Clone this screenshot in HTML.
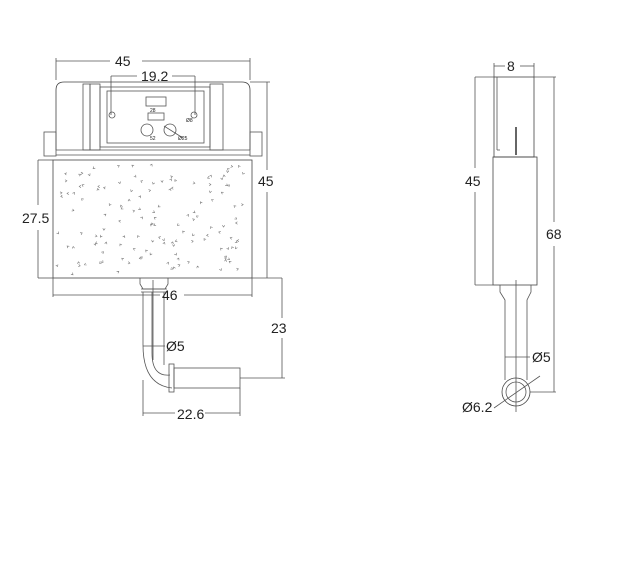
<!DOCTYPE html>
<html><head><meta charset="utf-8"><style>
html,body{margin:0;padding:0;background:#fff;}
svg{display:block;font-family:"Liberation Sans",sans-serif;}
text{fill:#222;font-size:14px;}
text.sm{font-size:5px;}
</style></head><body>
<svg id="s" width="631" height="574" viewBox="0 0 631 574" xmlns="http://www.w3.org/2000/svg">
<g fill="none" stroke="#555" stroke-width="0.8">
<line x1="56" y1="61" x2="110" y2="61"/><line x1="142" y1="61" x2="250" y2="61"/>
<line x1="56" y1="58" x2="56" y2="80"/><line x1="250" y1="58" x2="250" y2="80"/>
<line x1="111" y1="76" x2="137" y2="76"/><line x1="172" y1="76" x2="195" y2="76"/>
<line x1="111" y1="76" x2="111" y2="115"/><line x1="195" y1="76" x2="195" y2="115"/>
<path d="M56 150 V90 Q56 82 64 82 H242 Q250 82 250 90 V150" stroke="#444"/>
<line x1="56" y1="150" x2="250" y2="150"/>
<line x1="56" y1="155" x2="250" y2="155"/>
<rect x="83" y="84" width="7" height="66"/>
<rect x="90" y="84" width="10" height="66"/>
<rect x="100" y="87" width="110" height="60"/>
<rect x="107" y="91" width="97" height="52"/>
<rect x="210" y="84" width="13" height="66"/>
<rect x="44" y="132" width="12" height="24"/>
<rect x="250" y="132" width="12" height="24"/>
<rect x="146" y="97" width="20" height="9"/>
<rect x="148" y="113" width="16" height="7"/>
<circle cx="112" cy="115" r="3"/><circle cx="194" cy="115" r="3"/>
<circle cx="147" cy="130" r="6"/><circle cx="170" cy="130" r="6"/>
<line x1="164" y1="126" x2="183" y2="138"/>
<rect x="53" y="160" width="199" height="118" stroke="#444"/>
<line x1="38" y1="160" x2="53" y2="160"/><line x1="38" y1="278" x2="53" y2="278"/>
<line x1="38" y1="160" x2="38" y2="205"/><line x1="38" y1="230" x2="38" y2="278"/>
<line x1="250" y1="82" x2="270" y2="82"/><line x1="252" y1="278" x2="282" y2="278"/>
<line x1="267" y1="82" x2="267" y2="170"/><line x1="267" y1="192" x2="267" y2="278"/>
<line x1="53" y1="278" x2="53" y2="297"/><line x1="252" y1="278" x2="252" y2="297"/>
<line x1="53" y1="295" x2="160" y2="295"/><line x1="184" y1="295" x2="252" y2="295"/>
<path d="M140 278 V284 L143 289 H165 L168 284 V278"/>
<line x1="141" y1="289" x2="167" y2="289"/><line x1="141" y1="292" x2="167" y2="292"/>
<path d="M143 292 V345 Q143 385 172 388"/>
<path d="M152 292 V353 Q152 377 170 375"/>
<line x1="164" y1="292" x2="164" y2="365"/>
<line x1="153" y1="280" x2="153" y2="360"/>
<rect x="169" y="364" width="5" height="28"/>
<rect x="174" y="368" width="66" height="20"/>
<line x1="143" y1="346" x2="165" y2="346"/>
<line x1="143" y1="380" x2="143" y2="416"/><line x1="240" y1="388" x2="240" y2="416"/>
<line x1="143" y1="413" x2="175" y2="413"/><line x1="205" y1="413" x2="240" y2="413"/>
<line x1="240" y1="378" x2="285" y2="378"/>
<line x1="282" y1="278" x2="282" y2="318"/><line x1="282" y1="338" x2="282" y2="378"/>
<line x1="494" y1="66" x2="505" y2="66"/><line x1="520" y1="66" x2="534" y2="66"/>
<line x1="494" y1="63" x2="494" y2="77"/><line x1="534" y1="63" x2="534" y2="77"/>
<rect x="494" y="77" width="40" height="80" stroke="#444"/>
<line x1="497" y1="77" x2="497" y2="150"/><line x1="497" y1="150" x2="500" y2="150"/>
<line x1="516" y1="127" x2="516" y2="155" stroke="#333" stroke-width="1.5"/>
<rect x="493" y="157" width="44" height="128" stroke="#444"/>
<line x1="475" y1="77" x2="494" y2="77"/><line x1="475" y1="285" x2="493" y2="285"/>
<line x1="475" y1="77" x2="475" y2="168"/><line x1="475" y1="192" x2="475" y2="285"/>
<line x1="534" y1="77" x2="556" y2="77"/><line x1="530" y1="392" x2="556" y2="392"/>
<line x1="554" y1="77" x2="554" y2="222"/><line x1="554" y1="246" x2="554" y2="392"/>
<path d="M500 285 V292 L505 300 V380"/><path d="M531 285 V292 L527 300 V380"/>
<line x1="516" y1="280" x2="516" y2="412"/>
<circle cx="516" cy="392" r="14" stroke="#444"/><circle cx="516" cy="392" r="10"/>
<line x1="505" y1="357" x2="530" y2="357"/>
<line x1="494" y1="408" x2="540" y2="376"/>
</g>
<g id="sp" fill="none" stroke="#777" stroke-width="0.6"></g>
<text class="sm" x="150" y="140">52</text><text class="sm" x="178" y="140">Ø25</text>
<text class="sm" x="186" y="122">Ø8</text><text class="sm" x="150" y="112">28</text>
<text x="115" y="66">45</text>
<text x="141" y="81">19.2</text>
<text x="258" y="186">45</text>
<text x="22" y="223">27.5</text>
<text x="162" y="300">46</text>
<text x="271" y="333">23</text>
<text x="166" y="351">Ø5</text>
<text x="177" y="419">22.6</text>
<text x="507" y="71">8</text>
<text x="465" y="186">45</text>
<text x="546" y="239">68</text>
<text x="532" y="362">Ø5</text>
<text x="462" y="412">Ø6.2</text>
</svg>
<script>
var g=document.getElementById('sp'),s=7,h='';
function r(){s=(s*16807)%2147483647;return s/2147483647;}
for(var i=0;i<140;i++){var x=58+r()*188,y=165+r()*108,a=r()*6.28,l=2.2;
h+='<path d="M'+x.toFixed(1)+' '+y.toFixed(1)+' l'+(l*Math.cos(a)).toFixed(1)+' '+(l*Math.sin(a)).toFixed(1)+' l'+(l*Math.cos(a+2)).toFixed(1)+' '+(l*Math.sin(a+2)).toFixed(1)+'"/>';}
g.innerHTML=h;
</script>
</body></html>
